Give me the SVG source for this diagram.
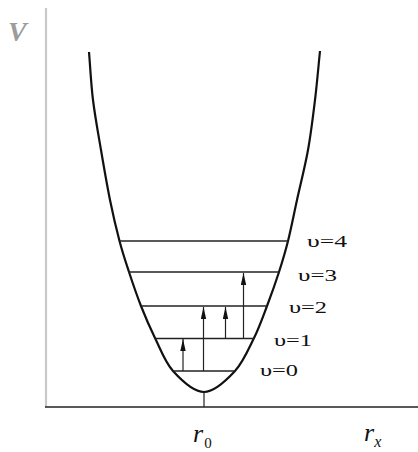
<svg xmlns="http://www.w3.org/2000/svg" width="418" height="452" viewBox="0 0 418 452">
<style>
.lvl{stroke:#222;stroke-width:1.3;fill:none}
.lab{font-family:"Liberation Serif","Times New Roman",serif;font-size:17.5px;fill:#111}
.arr{stroke:#222;stroke-width:1.2;fill:none;marker-end:url(#ah)}
.ax{font-family:"Liberation Serif","Times New Roman",serif;fill:#111}
</style>
<defs>
<marker id="ah" markerUnits="userSpaceOnUse" markerWidth="12" markerHeight="6" refX="12" refY="3" orient="auto">
<path d="M0,0.3 L12,3 L0,5.7 Z" fill="#111"/>
</marker>
</defs>
<rect width="418" height="452" fill="#fff"/>
<g id="axes">
<line x1="46" y1="8" x2="46" y2="407" stroke="#c9c9c9" stroke-width="2.2"/>
<line x1="45" y1="407" x2="418" y2="407" stroke="#222" stroke-width="1.6"/>
<line x1="204" y1="392" x2="204" y2="407" stroke="#222" stroke-width="1.2"/>
<text x="8" y="41" font-family="Liberation Serif, serif" font-size="28" font-weight="bold" font-style="italic" fill="#9c9c9c">V</text>
<text class="ax" x="193" y="442" font-size="26" font-style="italic">r<tspan font-size="15" font-style="normal" dx="1" dy="6">0</tspan></text>
<text class="ax" x="364" y="441" font-size="26" font-style="italic">r<tspan font-size="16" dx="0" dy="6">x</tspan></text>
</g>
<g id="curve">
<path d="M89,52 C90.33,68 91,83.67 93,100 C95,116.33 98.17,133.33 101,150 C103.83,166.67 106.92,184.83 110,200 C113.08,215.17 116.33,229 119.5,241 C122.67,253 125.42,261.17 129,272 C132.58,282.83 136.67,295 141,306 C145.33,317 149.67,327.17 155,338 C160.33,348.83 164.83,362 173,371 C181.17,380 193.67,392 204,392 C214.33,392 226.67,380 235,371 C243.33,362 248.67,348.83 254,338 C259.33,327.17 262.83,317 267,306 C271.17,295 275.5,282.83 279,272 C282.5,261.17 285,253 288,241 C291,229 293.67,215.17 297,200 C300.33,184.83 305,166.67 308,150 C311,133.33 313,116.5 315,100 C317,83.5 318.33,67.33 320,51" fill="none" stroke="#111" stroke-width="2.2"/>
</g>
<g id="level4"><line class="lvl" x1="119.5" y1="241" x2="288" y2="241"/><text class="lab" x="307" y="247" textLength="40" lengthAdjust="spacingAndGlyphs">υ=4</text></g>
<g id="level3"><line class="lvl" x1="129" y1="272" x2="279" y2="272"/><text class="lab" x="298" y="281" textLength="39" lengthAdjust="spacingAndGlyphs">υ=3</text></g>
<g id="level2"><line class="lvl" x1="141" y1="306" x2="267" y2="306"/><text class="lab" x="289" y="313" textLength="38" lengthAdjust="spacingAndGlyphs">υ=2</text></g>
<g id="level1"><line class="lvl" x1="155" y1="338.5" x2="254" y2="338.5"/><text class="lab" x="274" y="346" textLength="38" lengthAdjust="spacingAndGlyphs">υ=1</text></g>
<g id="level0"><line class="lvl" x1="173" y1="371" x2="235" y2="371"/><text class="lab" x="260" y="376" textLength="38" lengthAdjust="spacingAndGlyphs">υ=0</text></g>
<g id="connectors">
<line class="arr" x1="183" y1="371" x2="183" y2="339"/>
<line class="arr" x1="203.5" y1="371" x2="203.5" y2="307"/>
<line class="arr" x1="225.5" y1="338" x2="225.5" y2="307"/>
<line class="arr" x1="243.5" y1="338" x2="243.5" y2="273"/>
</g>
</svg>
